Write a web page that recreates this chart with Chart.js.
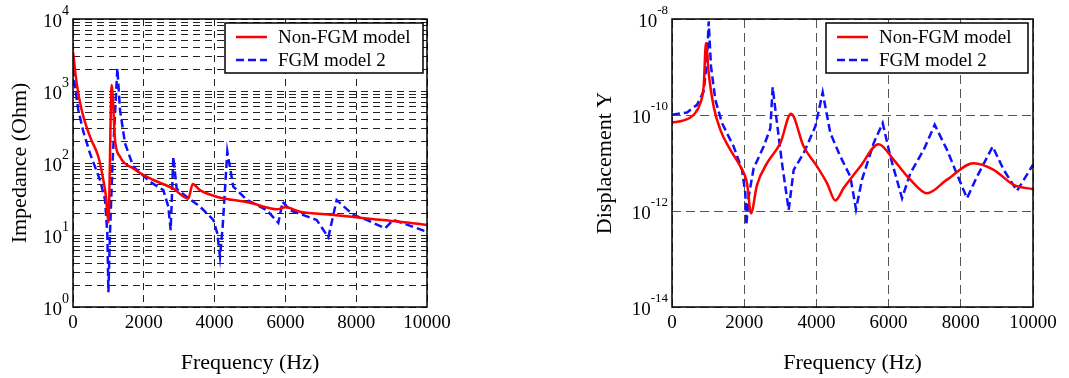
<!DOCTYPE html>
<html>
<head>
<meta charset="utf-8">
<script src="https://cdn.jsdelivr.net/npm/chart.js@4/dist/chart.umd.min.js"></script>
<style>
  body { margin: 0; background: #fff; }
  .panel { position: absolute; top: 0; height: 378px; }
</style>
</head>
<body>
<div class="panel" style="left:0;width:540px;"><canvas id="impedanceChart"></canvas></div>
<div class="panel" style="left:540px;width:529px;"><canvas id="displacementChart"></canvas></div>
<script>
// impedance panel
const impFreqRed = [0, 104, 245, 480, 716, 857, 932, 1000, 1093, 1187, 1328, 1704, 2175, 2834, 3258, 3381, 3588, 4059, 5000, 5565, 5753, 6000, 6413, 7354, 8296, 9238, 10000];
const impRed = [3516, 1277, 545, 232, 122, 58, 34, 15, 1211, 209, 122, 84, 61, 44, 32, 51, 42, 34, 28, 23.5, 22.7, 24.2, 21, 19, 17, 15.3, 13.8];
const impFreqBlue = [0, 56, 150, 292, 480, 763, 904, 970, 1000, 1045, 1120, 1253, 1328, 1469, 1704, 2175, 2551, 2693, 2759, 2834, 2928, 3211, 3588, 3964, 4077, 4152, 4228, 4359, 4528, 4905, 5470, 5800, 5922, 6130, 6883, 7213, 7448, 7919, 8296, 8814, 9049, 10000];
const impBlue = [2065, 1148, 545, 272, 136, 58, 31, 10.5, 1.6, 10.5, 110, 2065, 545, 188, 89, 55, 42, 24.8, 11.7, 122, 44, 34, 24.8, 16.2, 10.5, 5, 13, 144, 47, 31, 22.2, 14.8, 29, 22, 16.2, 9.3, 30.6, 19, 16.2, 12.4, 16.2, 11.1];

// displacement panel
const dispFreqRed = [0, 323, 600, 785, 877, 942, 1016, 1154, 1339, 1616, 1893, 2078, 2188, 2355, 2632, 3001, 3297, 3647, 4017, 4294, 4525, 4755, 5217, 5725, 6141, 6602, 7064, 7618, 8357, 8911, 9465, 10000];
const dispRed = [7.0e-11, 7.7e-11, 1.01e-10, 1.77e-10, 3.94e-10, 3.16e-9, 7.5e-10, 1.51e-10, 4.9e-11, 1.88e-11, 8.5e-12, 3.8e-12, 9e-13, 3.5e-12, 9.9e-12, 2.6e-11, 1.06e-10, 2.2e-11, 8.5e-12, 3.8e-12, 1.65e-12, 3e-12, 8.5e-12, 2.47e-11, 1.16e-11, 4.5e-12, 2.35e-12, 4.5e-12, 9.9e-12, 7.2e-12, 3.5e-12, 2.85e-12];
const dispFreqBlue = [0, 416, 693, 877, 970, 1016, 1080, 1200, 1385, 1708, 1939, 2031, 2059, 2124, 2262, 2539, 2724, 2789, 2863, 3047, 3232, 3371, 3647, 3971, 4174, 4386, 4663, 4940, 5097, 5263, 5587, 5836, 6048, 6372, 6602, 6972, 7277, 7618, 7941, 8172, 8449, 8883, 9188, 9557, 10000];
const dispBlue = [1.01e-10, 1.13e-10, 1.63e-10, 3.1e-10, 1.42e-9, 8.9e-9, 1.03e-9, 2.08e-10, 6.8e-11, 2.2e-11, 7.2e-12, 2.35e-12, 5.1e-13, 2e-12, 7.8e-12, 2.2e-11, 5.3e-11, 3.8e-10, 1.29e-10, 9.9e-12, 1.05e-12, 7.2e-12, 1.6e-11, 5.8e-11, 2.96e-10, 4.2e-11, 1.37e-11, 5.2e-12, 1.09e-12, 4.5e-12, 2.6e-11, 6.8e-11, 1.37e-11, 1.85e-12, 6.1e-12, 1.88e-11, 6.25e-11, 1.88e-11, 4.8e-12, 1.85e-12, 5.2e-12, 2.2e-11, 7.2e-12, 2.63e-12, 9.2e-12];

const seriesLabels = ['Non-FGM model', 'FGM model 2'];
const freqTicks = [0, 2000, 4000, 6000, 8000, 10000];
const impDecades = [0, 1, 2, 3, 4];
const dispDecades = [-14, -12, -10, -8];

const serif = 'Liberation Serif, Times New Roman, serif';

function toPoints(xs, ys) {
    return xs.map((x, i) => ({ x: x, y: ys[i] }));
}

// all 1..9 x 10^k lines for the impedance grid
function minorGrid(decades) {
    const vals = [];
    for (let i = 0; i < decades.length - 1; i++) {
        for (let m = 1; m < 10; m++) vals.push(m * Math.pow(10, decades[i]));
    }
    vals.push(Math.pow(10, decades[decades.length - 1]));
    return vals;
}

// frame, 10^n labels and boxed legend
const decorPlugin = {
    id: 'decor',
    afterDraw(chart, args, opts) {
        const ctx = chart.ctx;
        const a = chart.chartArea;
        const y = chart.scales.y;
        ctx.save();
        ctx.strokeStyle = '#000';
        ctx.lineWidth = 1.5;
        ctx.setLineDash([]);
        ctx.strokeRect(a.left, a.top, a.right - a.left, a.bottom - a.top);

        ctx.fillStyle = '#000';
        ctx.textBaseline = 'middle';
        opts.decades.forEach(e => {
            const py = y.getPixelForValue(Math.pow(10, e));
            const exp = String(e);
            ctx.font = opts.expSize + 'px ' + serif;
            const ew = ctx.measureText(exp).width;
            ctx.textAlign = 'left';
            const ex = a.left - 4 - ew;
            ctx.fillText(exp, ex, py - 8);
            ctx.font = '19px ' + serif;
            ctx.textAlign = 'right';
            ctx.fillText('10', ex, py + 3);
        });

        const L = opts.legend;
        ctx.fillStyle = '#fff';
        ctx.fillRect(L.x, L.y, L.w, L.h);
        ctx.strokeStyle = '#000';
        ctx.lineWidth = 1.5;
        ctx.strokeRect(L.x, L.y, L.w, L.h);
        chart.data.datasets.forEach((ds, i) => {
            const ry = L.y + 14 + i * 23;
            ctx.strokeStyle = ds.borderColor;
            ctx.lineWidth = ds.borderWidth;
            ctx.setLineDash(ds.borderDash || []);
            ctx.beginPath();
            ctx.moveTo(L.x + 11, ry);
            ctx.lineTo(L.x + 42, ry);
            ctx.stroke();
            ctx.setLineDash([]);
            ctx.fillStyle = '#000';
            ctx.font = '19px ' + serif;
            ctx.textAlign = 'left';
            ctx.fillText(ds.label, L.x + 53, ry + 1);
        });
        ctx.restore();
    }
};

function makeChart(id, cfg) {
    return new Chart(document.getElementById(id).getContext('2d'), {
        type: 'line',
        data: {
            datasets: [
                {
                    label: seriesLabels[0],
                    data: cfg.red,
                    borderColor: '#ff0000',
                    borderWidth: 2.5,
                    pointRadius: 0,
                    cubicInterpolationMode: 'monotone',
                    fill: false
                },
                {
                    label: seriesLabels[1],
                    data: cfg.blue,
                    borderColor: '#1010ff',
                    borderWidth: 2.5,
                    borderDash: [8, 4],
                    pointRadius: 0,
                    tension: 0,
                    fill: false
                }
            ]
        },
        options: {
            responsive: true,
            maintainAspectRatio: false,
            animation: false,
            layout: { padding: { top: 19, right: cfg.padRight, left: 0, bottom: 0 } },
            plugins: {
                legend: { display: false },
                tooltip: { enabled: false },
                decor: { decades: cfg.decades, expSize: cfg.expSize, legend: cfg.legend }
            },
            scales: {
                x: {
                    type: 'linear',
                    min: 0,
                    max: 10000,
                    afterBuildTicks: s => { s.ticks = freqTicks.map(v => ({ value: v })); },
                    afterFit: s => { s.height = 71; },
                    ticks: {
                        font: { family: serif, size: 19 },
                        color: '#000',
                        padding: 5,
                        maxRotation: 0,
                        callback: v => String(v)
                    },
                    grid: { color: cfg.gridColor, lineWidth: 1, drawTicks: false },
                    border: { display: false, dash: cfg.dash },
                    title: {
                        display: true,
                        text: 'Frequency (Hz)',
                        font: { family: serif, size: 22 },
                        color: '#000',
                        padding: { top: 0, bottom: 2 }
                    }
                },
                y: {
                    type: 'logarithmic',
                    min: cfg.yMin,
                    max: cfg.yMax,
                    afterBuildTicks: s => { s.ticks = cfg.yGrid.map(v => ({ value: v })); },
                    afterFit: s => { s.width = cfg.yWidth; },
                    ticks: { display: false },
                    grid: { color: cfg.gridColor, lineWidth: 1, drawTicks: false },
                    border: { display: false, dash: cfg.dash },
                    title: {
                        display: true,
                        text: cfg.yTitle,
                        font: { family: serif, size: 22 },
                        color: '#000',
                        padding: { top: cfg.yTitlePad, bottom: 0 }
                    }
                }
            }
        },
        plugins: [decorPlugin]
    });
}

makeChart('impedanceChart', {
    red: toPoints(impFreqRed, impRed),
    blue: toPoints(impFreqBlue, impBlue),
    yMin: 1,
    yMax: 10000,
    yGrid: minorGrid(impDecades),
    decades: impDecades,
    expSize: 14,
    yWidth: 73,
    padRight: 113,
    yTitle: 'Impedance (Ohm)',
    yTitlePad: 7,
    gridColor: '#222',
    dash: [7, 5],
    legend: { x: 225, y: 23, w: 198, h: 50 }
});

makeChart('displacementChart', {
    red: toPoints(dispFreqRed, dispRed),
    blue: toPoints(dispFreqBlue, dispBlue),
    yMin: 1e-14,
    yMax: 1e-8,
    yGrid: dispDecades.map(e => Math.pow(10, e)),
    decades: dispDecades,
    expSize: 13,
    yWidth: 132,
    padRight: 36,
    yTitle: 'Displacement Y',
    yTitlePad: 52,
    gridColor: '#555',
    dash: [9, 5],
    legend: { x: 286, y: 23, w: 202, h: 50 }
});
</script>
</body>
</html>
